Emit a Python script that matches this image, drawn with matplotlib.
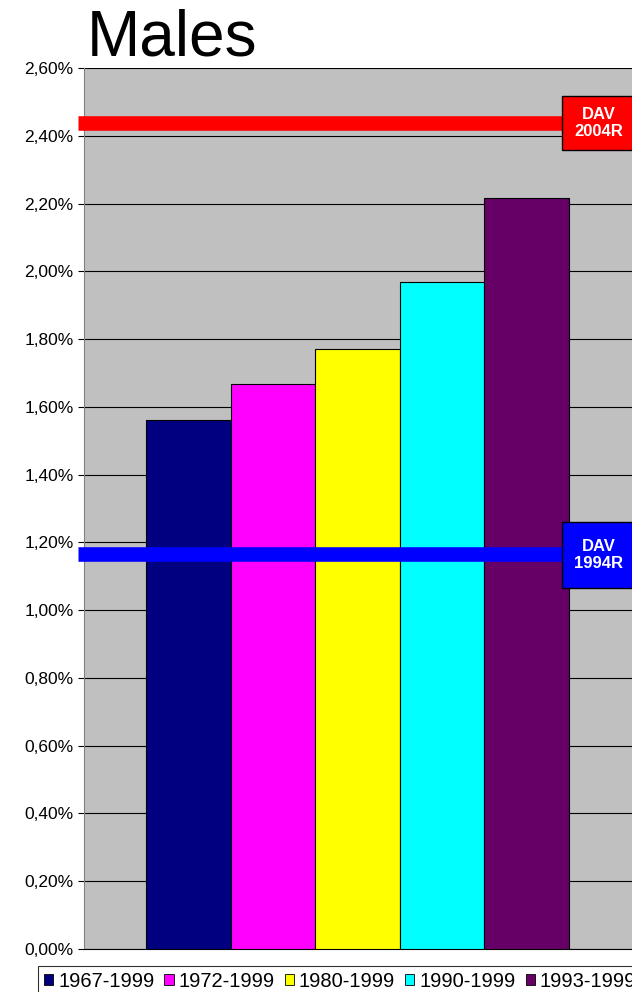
import matplotlib
matplotlib.use("Agg")
import matplotlib.pyplot as plt
from matplotlib.patches import Rectangle, Patch
from matplotlib.ticker import FuncFormatter, MultipleLocator

plt.rcParams['font.family'] = ['Liberation Sans', 'DejaVu Sans']

# data (values in %)
periods = ['1967-1999', '1972-1999', '1980-1999', '1990-1999', '1993-1999']
values = [1.561, 1.667, 1.771, 1.968, 2.216]
bar_colors = ['#000080', '#FF00FF', '#FFFF00', '#00FFFF', '#660066']
ref_names = ['DAV\n2004R', 'DAV\n1994R']
ref_values = [2.438, 1.166]
ref_colors = ['#FF0000', '#0000FF']

W, H = 632, 992
fig = plt.figure(figsize=(W / 100, H / 100), dpi=100)
ax = fig.add_axes([84 / W, (H - 949) / H, (W - 84) / W, (949 - 68) / H])
ax.set_facecolor('#C0C0C0')

x = list(range(len(periods)))
ax.bar(x, values, width=1.0, color=bar_colors, edgecolor='black', linewidth=0.8, zorder=3)

ax.set_xlim(-1.233, 5.245)
ax.set_ylim(0, 2.6)
ax.yaxis.set_major_locator(MultipleLocator(0.2))
ax.yaxis.set_major_formatter(FuncFormatter(lambda v, p: ('%.2f%%' % v).replace('.', ',')))
ax.tick_params(axis='y', labelsize=12.5, length=4.5, width=0.8, direction='out', pad=3)
ax.set_xticks([])
ax.grid(axis='y', color='black', linewidth=0.8, zorder=1)
ax.set_axisbelow(True)
for s in ['top', 'right']:
    ax.spines[s].set_visible(False)
ax.spines['left'].set_color('#808080')
ax.spines['bottom'].set_color('black')

# reference lines with labels
ppx = 84.6  # pixels per x unit
ppy = (949 - 68) / 2.6
box_left = -1.233 + (562 - 84) / ppx
box_right = 5.245
box_tops = [96, 522]
box_bots = [150, 588]
for name, val, col, bt, bb in zip(ref_names, ref_values, ref_colors, box_tops, box_bots):
    ax.plot([-1.233 - 6 / ppx, box_left], [val, val], color=col, linewidth=10.5,
            solid_capstyle='butt', clip_on=False, zorder=4)
    y0 = (949 - bb) / ppy
    y1 = (949 - bt) / ppy
    ax.add_patch(Rectangle((box_left, y0), box_right - box_left + 0.2, y1 - y0,
                           facecolor=col, edgecolor='black', linewidth=1.0,
                           clip_on=False, zorder=5))
    ax.text((box_left + box_right) / 2 + 0.02, (y0 + y1) / 2, name, color='white',
            fontsize=12, fontweight='bold', ha='center', va='center',
            linespacing=1.2, zorder=6, clip_on=False)

fig.text(87 / W, 1 - 56 / H, 'Males', fontsize=46, ha='left', va='baseline')

handles = [Patch(facecolor=c, edgecolor='black', linewidth=0.6) for c in bar_colors]
leg = fig.legend(handles, periods, loc='upper left', bbox_to_anchor=(38 / W, 1 - 966 / H),
                 ncol=5, fontsize=14.5, frameon=True, fancybox=False,
                 handlelength=0.45, handleheight=0.45, handletextpad=0.25,
                 columnspacing=0.5, borderpad=0.3, borderaxespad=0)
leg.get_frame().set_edgecolor('black')
leg.get_frame().set_linewidth(0.8)

fig.savefig('out.png', dpi=100)
